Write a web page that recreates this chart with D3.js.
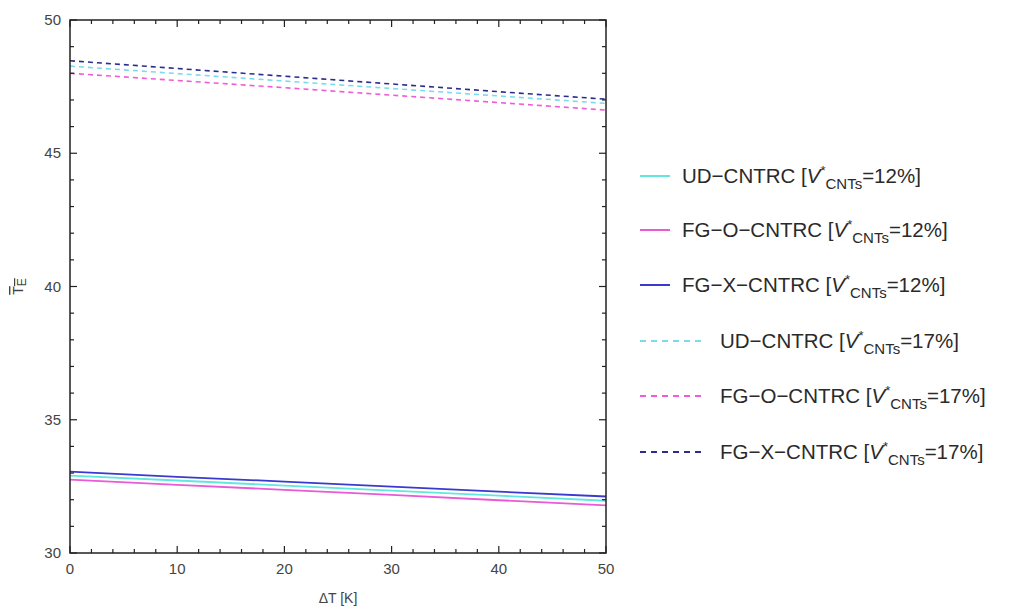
<!DOCTYPE html>
<html>
<head>
<meta charset="utf-8">
<script src="https://cdn.jsdelivr.net/npm/d3@7"></script>
<style>
  body { margin: 0; background: #fff; }
  text { font-family: "Liberation Sans", Arial, sans-serif; }
</style>
</head>
<body>
<div id="chart"></div>
<script>
const deltaT = [0, 10, 20, 30, 40, 50];

// 12% (solid)
const ud12  = [32.90, 32.72, 32.53, 32.34, 32.15, 31.96];
const fgo12 = [32.75, 32.56, 32.37, 32.18, 31.98, 31.79];
const fgx12 = [33.05, 32.86, 32.68, 32.49, 32.30, 32.12];
// 17% (dashed)
const ud17  = [48.27, 47.99, 47.71, 47.43, 47.15, 46.87];
const fgo17 = [48.00, 47.73, 47.46, 47.18, 46.90, 46.62];
const fgx17 = [48.47, 48.18, 47.89, 47.60, 47.31, 47.03];

const seriesNames = ["UD−CNTRC", "FG−O−CNTRC", "FG−X−CNTRC", "UD−CNTRC", "FG−O−CNTRC", "FG−X−CNTRC"];
const seriesPct = ["12%", "12%", "12%", "17%", "17%", "17%"];
const seriesVals = [ud12, fgo12, fgx12, ud17, fgo17, fgx17];
const seriesColors = ["#62e6e0", "#e85ad6", "#3a3ad0", "#78dcea", "#f05cd8", "#2c2c8c"];
const seriesDashed = [false, false, false, true, true, true];

const xTicks = [0, 10, 20, 30, 40, 50];
const yTicks = [30, 35, 40, 45, 50];

const W = 1011, H = 610;
const marg = {top: 20, right: 405, bottom: 57, left: 70};
const wid = W - marg.left - marg.right,
  hei = H - marg.top - marg.bottom;

const svg = d3.select("#chart").append("svg")
  .attr("width", W)
  .attr("height", H);

const g = svg.append("g")
  .attr("transform", `translate(${marg.left},${marg.top})`);

const xScale = d3.scaleLinear().domain([0, 50]).range([0, wid]);
const yScale = d3.scaleLinear().domain([30, 50]).range([hei, 0]);

// lines
const line = d3.line()
  .x((d, i) => xScale(deltaT[i]))
  .y(d => yScale(d));

seriesVals.forEach((vals, k) => {
  g.append("path")
    .datum(vals)
    .attr("fill", "none")
    .attr("stroke", seriesColors[k])
    .attr("stroke-width", seriesDashed[k] ? 1.6 : 1.8)
    .attr("stroke-dasharray", seriesDashed[k] ? "5,4" : null)
    .attr("d", line);
});

// frame
g.append("rect")
  .attr("width", wid)
  .attr("height", hei)
  .attr("fill", "none")
  .attr("stroke", "#222")
  .attr("stroke-width", 1.5);

// ticks (inward, mirrored)
const xMinor = d3.range(0, 51, 2).filter(v => v % 10 !== 0);
const yMinor = d3.range(30, 51, 1).filter(v => v % 5 !== 0);

function xTickMarks(vals, len) {
  vals.forEach(v => {
    g.append("line").attr("x1", xScale(v)).attr("x2", xScale(v))
      .attr("y1", hei).attr("y2", hei - len).attr("stroke", "#222").attr("stroke-width", 1.2);
    g.append("line").attr("x1", xScale(v)).attr("x2", xScale(v))
      .attr("y1", 0).attr("y2", len).attr("stroke", "#222").attr("stroke-width", 1.2);
  });
}
function yTickMarks(vals, len) {
  vals.forEach(v => {
    g.append("line").attr("x1", 0).attr("x2", len)
      .attr("y1", yScale(v)).attr("y2", yScale(v)).attr("stroke", "#222").attr("stroke-width", 1.2);
    g.append("line").attr("x1", wid).attr("x2", wid - len)
      .attr("y1", yScale(v)).attr("y2", yScale(v)).attr("stroke", "#222").attr("stroke-width", 1.2);
  });
}
xTickMarks(xTicks, 7);
xTickMarks(xMinor, 4);
yTickMarks(yTicks, 7);
yTickMarks(yMinor, 4);

// tick labels
g.selectAll(".xlab").data(xTicks).enter().append("text")
  .attr("x", d => xScale(d))
  .attr("y", hei + 21)
  .attr("text-anchor", "middle")
  .style("font-size", "15px")
  .style("fill", "#444")
  .text(d => d);

g.selectAll(".ylab").data(yTicks).enter().append("text")
  .attr("x", -9)
  .attr("y", d => yScale(d) + 5)
  .attr("text-anchor", "end")
  .style("font-size", "15px")
  .style("fill", "#444")
  .text(d => d);

// axis titles
g.append("text")
  .attr("x", wid / 2)
  .attr("y", hei + 50)
  .attr("text-anchor", "middle")
  .style("font-size", "14px")
  .style("fill", "#444")
  .text("ΔT [K]");

const yt = g.append("text")
  .attr("transform", `translate(-47, ${yScale(40)}) rotate(-90)`)
  .attr("text-anchor", "middle")
  .style("font-size", "14px")
  .style("fill", "#444");
yt.append("tspan").style("text-decoration", "overline").text("T");
yt.append("tspan").attr("dy", 3).style("font-size", "12px").style("text-decoration", "overline").text("E");

// legend
const legY = [176, 230, 285, 341, 396, 452];
seriesVals.forEach((vals, k) => {
  const y = legY[k];
  const dashed = seriesDashed[k];
  svg.append("line")
    .attr("x1", 640).attr("x2", dashed ? 702 : 670)
    .attr("y1", y).attr("y2", y)
    .attr("stroke", seriesColors[k])
    .attr("stroke-width", 2)
    .attr("stroke-dasharray", dashed ? "6,5" : null);
  const t = svg.append("text")
    .attr("x", dashed ? 720 : 682)
    .attr("y", y + 7)
    .style("font-size", "20.5px")
    .style("fill", "#2a2a2a");
  t.append("tspan").text(seriesNames[k] + " [");
  t.append("tspan").style("font-style", "italic").text("V");
  t.append("tspan").attr("dy", -8).style("font-size", "13px").text("*");
  t.append("tspan").attr("dy", 14).style("font-size", "15px").text("CNTs");
  t.append("tspan").attr("dy", -6).text("=" + seriesPct[k] + "]");
});
</script>
</body>
</html>
